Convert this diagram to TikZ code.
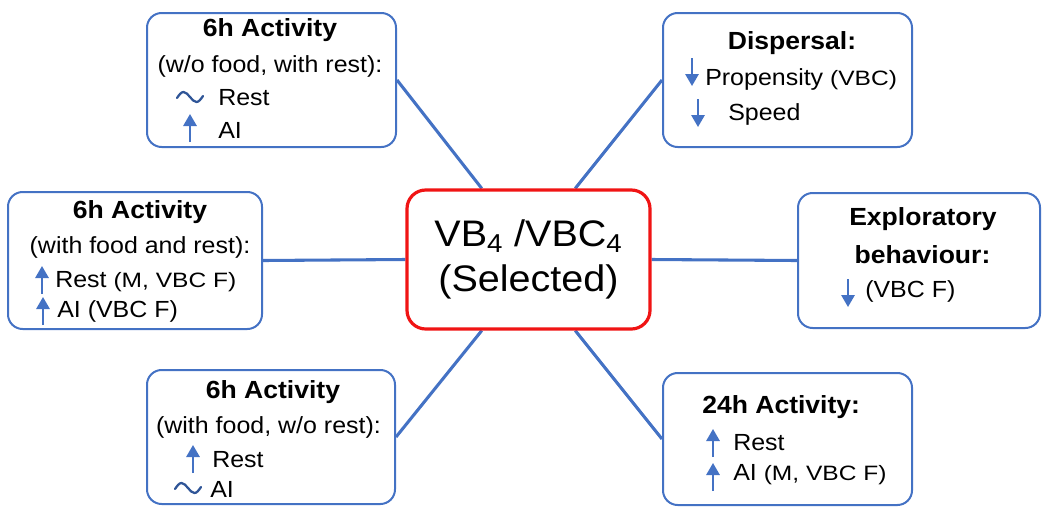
\documentclass[tikz,border=0pt]{standalone}
\usepackage{fontspec}
\setmainfont{Liberation Sans}[FakeStretch=1.07]
\newfontfamily\notefont{Liberation Sans}[FakeStretch=1.18]
\usetikzlibrary{arrows.meta,backgrounds,calc}

\definecolor{linkblue}{RGB}{68,114,196}
\definecolor{waveblue}{RGB}{47,85,151}
\definecolor{selred}{RGB}{240,20,20}

% smaller, wider text for the sex/line notes
\newcommand{\nt}[1]{{\notefont\fontsize{15.6}{18}\selectfont #1}}

\tikzset{
  trend/.style={linkblue, line width=1.5pt, -{Triangle[width=10pt,length=9pt]}},
  upmark/.pic={\draw[trend] (0,14) -- (0,-14);},
  downmark/.pic={\draw[trend] (0,-14) -- (0,14);},
  samemark/.pic={\draw[waveblue, line width=1.7pt, line cap=round]
    (-13,1) sin (-6.5,-5) cos (0,0) sin (6.5,5) cos (13,-1);},
}

\begin{document}
\begin{tikzpicture}[x=0.75pt,y=-0.75pt]
  \tikzstyle{box}=[draw=linkblue, line width=1.5pt, rounded corners=11pt]
  \tikzstyle{selbox}=[draw=selred, line width=2.4pt, rounded corners=14pt, align=center,
    font=\fontsize{27.7}{34}\selectfont]
  \tikzstyle{link}=[linkblue, line width=2.3pt]
  \tikzstyle{head}=[inner sep=0pt, font=\fontsize{18.6}{22}\selectfont\bfseries]
  \tikzstyle{body}=[inner sep=0pt, font=\fontsize{17.5}{21}\selectfont]
  \useasboundingbox (0,0) rectangle (1045,508);

  % centre and the six outcome boxes
  \node[selbox, minimum width=182.25pt, minimum height=104.25pt] (sel) at (528.5,259.5)
    {VB\textsubscript{4} /VBC\textsubscript{4}\\(Selected)};
  \node[box, minimum width=186.75pt, minimum height=100.5pt] (tl) at (271.5,80) {};
  \node[box, minimum width=186.75pt, minimum height=100.5pt] (tr) at (787.5,80) {};
  \node[box, minimum width=190.5pt, minimum height=102.75pt] (ml) at (135,260.5) {};
  \node[box, minimum width=181.5pt, minimum height=101.25pt] (mr) at (919,260.5) {};
  \node[box, minimum width=186pt, minimum height=100.5pt] (bl) at (271,437) {};
  \node[box, minimum width=186.75pt, minimum height=99pt] (br) at (787.5,439) {};

  % 6h, no food
  \node[head, anchor=base] (tl-head) at (270,36) {6h Activity};
  \node[body, anchor=base] (tl-cond) at (270,72) {(w/o food, with rest):};
  \pic at (190,97) {samemark};
  \node[body, anchor=base west] (tl-rest) at (218,105) {Rest};
  \pic at (190,128) {upmark};
  \node[body, anchor=base west] (tl-ai) at (218,138) {AI};

  % dispersal
  \node[head, anchor=base] (tr-head) at (792,49) {Dispersal:};
  \pic at (692,72) {downmark};
  \node[body, anchor=base west] (tr-prop) at (705,85) {Propensity \nt{(VBC)}};
  \pic at (698,113) {downmark};
  \node[body, anchor=base west] (tr-speed) at (728,120) {Speed};

  % 6h, food and rest
  \node[head, anchor=base] (ml-head) at (140,218) {6h Activity};
  \node[body, anchor=base] (ml-cond) at (140,253) {(with food and rest):};
  \pic at (42,280) {upmark};
  \node[body, anchor=base west] (ml-rest) at (55,287) {Rest \nt{(M, VBC F)}};
  \pic at (43,311) {upmark};
  \node[body, anchor=base west] (ml-ai) at (57,317) {AI (VBC F)};

  % exploration
  \node[head, anchor=base] (mr-head) at (923,225) {Exploratory};
  \node[head, anchor=base] (mr-head2) at (922.5,263) {behaviour:};
  \pic at (848,293) {downmark};
  \node[body, anchor=base west] (mr-note) at (865,297) {(VBC F)};

  % 6h, food without rest
  \node[head, anchor=base] (bl-head) at (273,398) {6h Activity};
  \node[body, anchor=base] (bl-cond) at (268.5,433) {(with food, w/o rest):};
  \pic at (193,459) {upmark};
  \node[body, anchor=base west] (bl-rest) at (212,467) {Rest};
  \pic at (188,488) {samemark};
  \node[body, anchor=base west] (bl-ai) at (210,497) {AI};

  % 24h
  \node[head, anchor=base west] (br-head) at (702,413) {24h Activity:};
  \pic at (713,443) {upmark};
  \node[body, anchor=base west] (br-rest) at (733,450) {Rest};
  \pic at (713,477) {upmark};
  \node[body, anchor=base west] (br-ai) at (733,480) {AI \nt{(M, VBC F)}};

  \begin{scope}[on background layer]
    \coordinate (sel-tl) at ($(sel.north west)!0.31!(sel.north east)$);
    \coordinate (sel-tr) at ($(sel.north west)!0.69!(sel.north east)$);
    \coordinate (sel-bl) at ($(sel.south west)!0.31!(sel.south east)$);
    \coordinate (sel-br) at ($(sel.south west)!0.69!(sel.south east)$);
    \draw[link] (tl.east) -- (sel-tl);
    \draw[link] (tr.west) -- (sel-tr);
    \draw[link] (ml.east) -- (sel.west);
    \draw[link] (mr.west) -- (sel.east);
    \draw[link] (bl.east) -- (sel-bl);
    \draw[link] (br.west) -- (sel-br);
  \end{scope}
\end{tikzpicture}
\end{document}
